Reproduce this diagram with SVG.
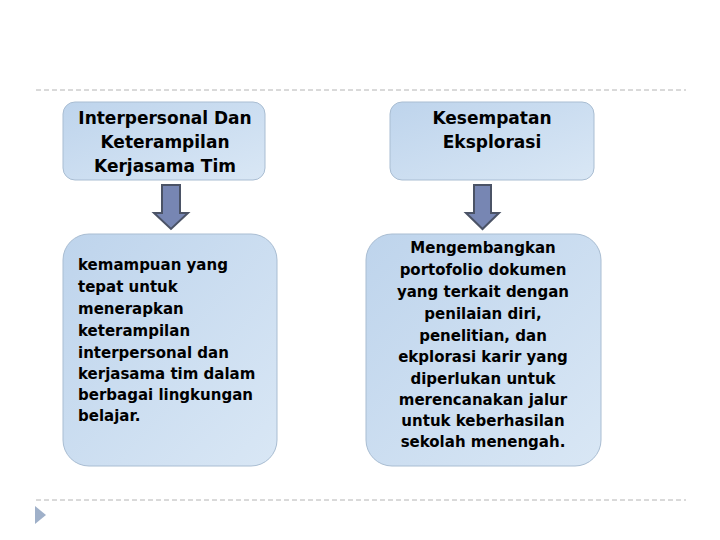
<svg xmlns="http://www.w3.org/2000/svg" width="720" height="540" viewBox="0 0 720 540">
<defs>
<linearGradient id="g" x1="0" y1="0" x2="1" y2="1">
<stop offset="0" stop-color="#bed4ec"/>
<stop offset="1" stop-color="#d9e7f5"/>
</linearGradient>
<style>
.box{fill:url(#g);stroke:#a9bdd2;stroke-width:1}
.arr{fill:#7786b3;stroke:#4b5366;stroke-width:2;stroke-linejoin:miter}
.t{font-family:"DejaVu Sans",sans-serif;fill:#000}
.h{font-size:17px;font-weight:bold;text-anchor:middle}
.b{font-size:15px;font-weight:bold}
.c{text-anchor:middle}
.dash{stroke:#b4b4b4;stroke-width:1;stroke-dasharray:5 3}
</style>
</defs>
<rect width="720" height="540" fill="#fff"/>
<line class="dash" x1="36" y1="90" x2="686" y2="90"/>
<line class="dash" x1="36" y1="500" x2="686" y2="500"/>
<polygon points="35,506 46,515 35,524" fill="#9fb0c9"/>
<g id="node-interpersonal">
<rect class="box" x="63" y="102" width="202" height="78" rx="12"/>
<text class="t h" x="165"><tspan x="165" y="124">Interpersonal Dan</tspan><tspan x="165" y="148">Keterampilan</tspan><tspan x="165" y="172">Kerjasama Tim</tspan></text>
</g>
<g id="node-kesempatan">
<rect class="box" x="390" y="102" width="204" height="78" rx="12"/>
<text class="t h" x="492"><tspan x="492" y="124">Kesempatan</tspan><tspan x="492" y="148">Eksplorasi</tspan></text>
</g>
<g id="node-kemampuan">
<rect class="box" x="63" y="234" width="214" height="232" rx="26"/>
<text class="t b"><tspan x="78" y="270">kemampuan yang</tspan><tspan x="78" y="292">tepat untuk</tspan><tspan x="78" y="314">menerapkan</tspan><tspan x="78" y="336">keterampilan</tspan><tspan x="78" y="358">interpersonal dan</tspan><tspan x="78" y="379">kerjasama tim dalam</tspan><tspan x="78" y="400">berbagai lingkungan</tspan><tspan x="78" y="421">belajar.</tspan></text>
</g>
<g id="node-mengembangkan">
<rect class="box" x="366" y="234" width="235" height="232" rx="26"/>
<text class="t b c"><tspan x="483" y="253">Mengembangkan</tspan><tspan x="483" y="275">portofolio dokumen</tspan><tspan x="483" y="297">yang terkait dengan</tspan><tspan x="483" y="319">penilaian diri,</tspan><tspan x="483" y="341">penelitian, dan</tspan><tspan x="483" y="362">ekplorasi karir yang</tspan><tspan x="483" y="384">diperlukan untuk</tspan><tspan x="483" y="405">merencanakan jalur</tspan><tspan x="483" y="426">untuk keberhasilan</tspan><tspan x="483" y="447">sekolah menengah.</tspan></text>
</g>
<g id="connectors">
<polygon class="arr" points="162,185 180,185 180,213 188,213 171,229 154,213 162,213"/>
<polygon class="arr" points="474,185 491,185 491,213 499,213 482.5,229 466,213 474,213"/>
</g>
</svg>
